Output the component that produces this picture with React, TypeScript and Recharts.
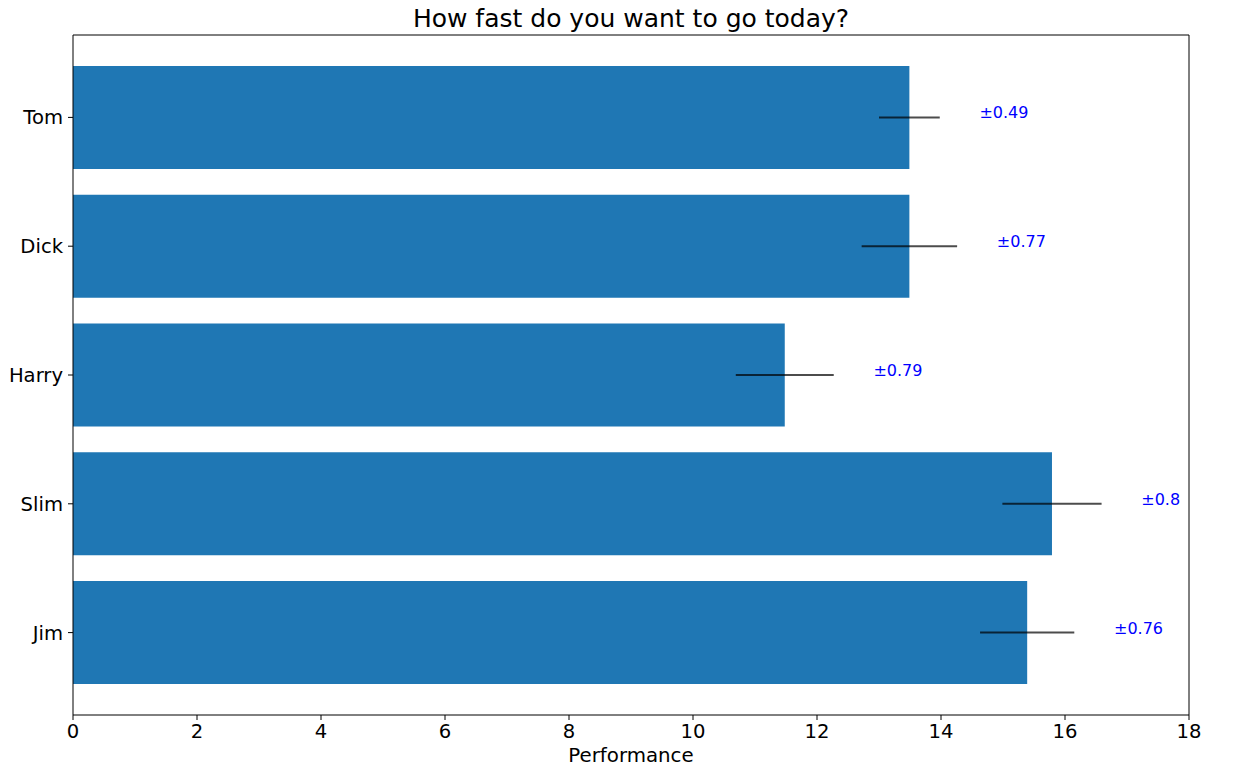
import {
  BarChart,
  Bar,
  XAxis,
  YAxis,
  ErrorBar,
  LabelList,
  Label,
} from "recharts";

// top to bottom, as drawn
const people = ["Tom", "Dick", "Harry", "Slim", "Jim"];
const performance = [13.49, 13.49, 11.48, 15.79, 15.39];
const errors = [0.49, 0.77, 0.79, 0.8, 0.76];
const xTicks = [0, 2, 4, 6, 8, 10, 12, 14, 16, 18];

const data = people.map((name, i) => ({
  name,
  value: performance[i],
  err: errors[i],
}));

const FONT = "'DejaVu Sans', sans-serif";

// "±err" text sits a little to the right of the error bar end
const ErrLabel = (props: any) => {
  const { x, y, width, height, index } = props;
  const d = data[index];
  const perUnit = width / d.value;
  const tx = x + width + (d.err + 0.64) * perUnit;
  return (
    <text
      x={tx}
      y={y + height / 2 + 1}
      fill="blue"
      fontSize={16}
      fontFamily={FONT}
    >
      {"±" + d.err}
    </text>
  );
};

const App = () => {
  return (
    <div style={{ fontFamily: FONT, marginTop: -8 }}>
      <BarChart
        width={1225}
        height={768}
        data={data}
        layout="vertical"
        barCategoryGap="10%"
        margin={{ top: 34, right: 43, left: 0, bottom: 0 }}
      >
        <XAxis
          type="number"
          domain={[0, 18]}
          ticks={xTicks}
          interval={0}
          height={53}
          stroke="#000"
          tickSize={5}
          tickMargin={4}
          tick={{ fill: "#000", fontSize: 19.6, fontFamily: FONT }}
          allowDataOverflow
        >
          <Label
            value="Performance"
            position="insideBottom"
            offset={6}
            fill="#000"
            fontSize={19.8}
            fontFamily={FONT}
          />
        </XAxis>
        <XAxis
          xAxisId="top"
          orientation="top"
          type="number"
          domain={[0, 18]}
          height={1}
          tick={false}
          tickLine={false}
          stroke="#000"
        >
          <Label
            value="How fast do you want to go today?"
            position="top"
            offset={7}
            fill="#000"
            fontSize={25}
            fontFamily={FONT}
          />
        </XAxis>
        <YAxis
          type="category"
          dataKey="name"
          width={65}
          padding={{ top: 18, bottom: 18 }}
          stroke="#000"
          tickSize={5}
          tickMargin={5}
          tick={{ fill: "#000", fontSize: 19.6, fontFamily: FONT }}
        />
        <YAxis
          yAxisId="right"
          orientation="right"
          type="category"
          dataKey="name"
          width={1}
          tick={false}
          tickLine={false}
          stroke="#000"
        />
        <Bar dataKey="value" fill="#1f77b4" isAnimationActive={false}>
          <ErrorBar
            dataKey="err"
            direction="x"
            width={0}
            stroke="#000"
            strokeOpacity={0.7}
            strokeWidth={2}
          />
          <LabelList dataKey="err" content={<ErrLabel />} />
        </Bar>
      </BarChart>
    </div>
  );
};

export default App;
